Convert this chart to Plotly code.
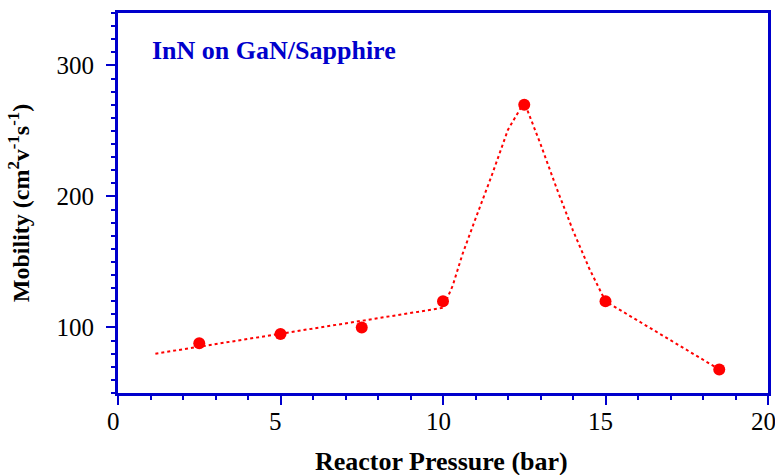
import plotly.graph_objects as go

# Measured data points
pressure = [2.5, 5.0, 7.5, 10.0, 12.5, 15.0, 18.5]
mobility = [88, 95, 100, 120, 270, 120, 68]

# Dotted guide/fit curve
fit_x = [1.15, 10.0, 10.3, 10.6, 11.0, 11.5, 12.0, 12.5, 13.0, 13.5, 14.0, 14.5, 15.0, 18.5]
fit_y = [80, 115, 132, 156, 183, 216, 251, 272, 240, 206, 174, 145, 120, 68]

x_ticks = [0, 5, 10, 15, 20]
y_ticks = [100, 200, 300]

BLUE = "#0000CC"
FONT = "Liberation Serif"

fig = go.Figure()
fig.add_trace(go.Scatter(x=fit_x, y=fit_y, mode="lines",
                         line=dict(color="#FF0000", width=2, dash="3px,3px"),
                         hoverinfo="skip", showlegend=False))
fig.add_trace(go.Scatter(x=pressure, y=mobility, mode="markers",
                         marker=dict(color="#FF0000", size=12),
                         showlegend=False))

axis_common = dict(showline=True, linecolor=BLUE, linewidth=3, mirror=True,
                   ticks="outside", tickcolor=BLUE, tickwidth=1.5, ticklen=9,
                   showgrid=False, zeroline=False, ticklabeloverflow="allow",
                   automargin=False,
                   tickfont=dict(family=FONT, size=25, color="black"))

# x tick labels placed on the x scale, nudged left as in the original
x_label_annotations = [
    dict(text=str(v), xref="x", yref="paper", x=v, y=-0.0745, xshift=-5,
         xanchor="center", yanchor="middle", showarrow=False,
         font=dict(family=FONT, size=25, color="black"))
    for v in x_ticks
]

fig.update_layout(
    width=775, height=475,
    margin=dict(l=118, r=7, t=13, b=82),
    paper_bgcolor="white", plot_bgcolor="white",
    xaxis=dict(range=[0, 20], tickvals=x_ticks, showticklabels=False,
               minor=dict(dtick=1, tick0=0, ticks="outside", ticklen=4, tickcolor=BLUE, tickwidth=1.5),
               **axis_common),
    yaxis=dict(range=[50, 340], tickvals=y_ticks, ticktext=[str(v) for v in y_ticks],
               minor=dict(dtick=10, tick0=0, ticks="outside", ticklen=4, tickcolor=BLUE, tickwidth=1.5),
               ticklabelstandoff=7,
               **axis_common),
    annotations=x_label_annotations + [
        dict(text="<b>InN on GaN/Sapphire</b>", xref="paper", yref="paper",
             x=0.049, y=0.902, xanchor="left", yanchor="middle", showarrow=False,
             font=dict(family=FONT, size=26, color=BLUE)),
        dict(text="<b>Reactor Pressure (bar)</b>", xref="paper", yref="paper",
             x=0.498, y=-0.18, xanchor="center", yanchor="middle", showarrow=False,
             font=dict(family=FONT, size=26, color="black")),
        dict(text="<b>Mobility (cm<sup>2</sup>v<sup>-1</sup>s<sup>-1</sup>)</b>", xref="paper", yref="paper",
             x=-0.152, y=0.5, xanchor="center", yanchor="middle", showarrow=False, textangle=-90,
             font=dict(family=FONT, size=24, color="black")),
    ],
)

fig.write_html("out.html")
